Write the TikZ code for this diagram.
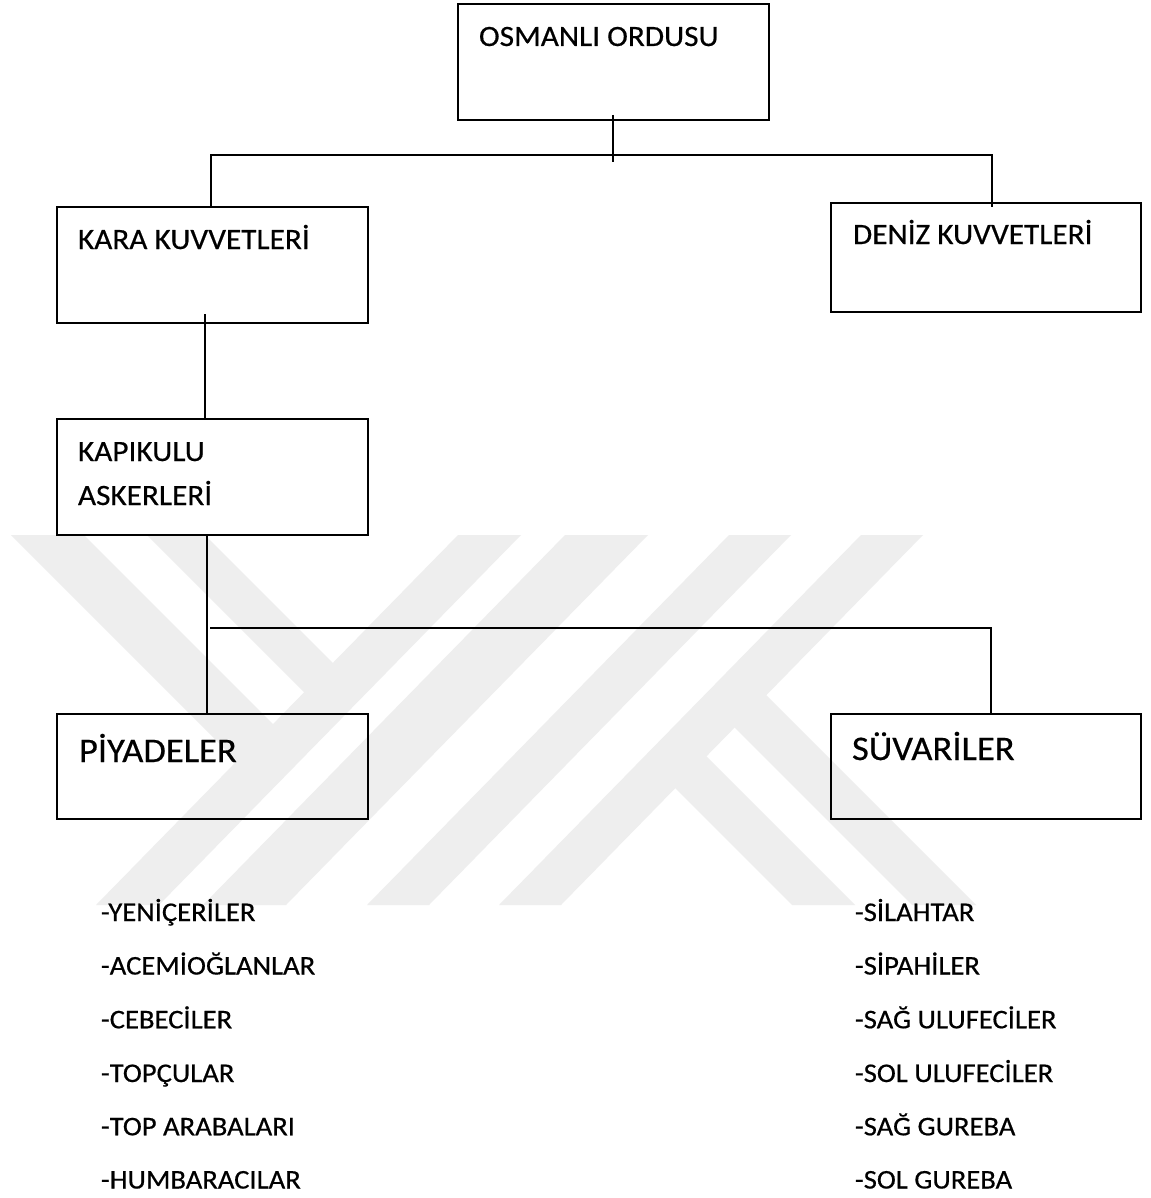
\documentclass[tikz,border=0pt]{standalone}
\usepackage{fontspec}
\setmainfont{Carlito}[FakeStretch=1.06,FakeBold=0.5]
\usetikzlibrary{calc}
\definecolor{wm}{RGB}{238,238,238}
\begin{document}
\begin{tikzpicture}[x=1pt,y=-1pt,
  box/.style={draw=black, line width=1.6pt, rectangle, inner sep=0pt, outer sep=0pt},
  conn/.style={draw=black, line width=1.4pt},
  lbl/.style={anchor=base west, inner sep=0pt, outer sep=0pt, font=\fontsize{29.5}{34}\selectfont},
  big/.style={lbl, font=\fontsize{34.5}{40}\selectfont},
  item/.style={lbl, font=\fontsize{27}{32}\selectfont}]
\useasboundingbox (0,0) rectangle (1150,1198);
\fill[white] (0,0) rectangle (1150,1198);
% watermark
\fill[wm] (458,535) -- (521,535) -- (159,905) -- (96,905) -- cycle;
\fill[wm] (565,535) -- (648,535) -- (286,905) -- (203,905) -- cycle;
\fill[wm] (729,535) -- (791,535) -- (429,905) -- (367,905) -- cycle;
\fill[wm] (861,535) -- (923,535) -- (561,905) -- (499,905) -- cycle;
\fill[wm] (11,535) -- (84,535) -- (280,731) -- (244,768) -- cycle;
\fill[wm] (147,535) -- (205,535) -- (340,670) -- (311,699) -- cycle;
\fill[wm] (668,781) -- (699,749) -- (855,905) -- (792,905) -- cycle;
\fill[wm] (728,721) -- (759,688) -- (976,905) -- (912,905) -- cycle;
% boxes
\node[box, minimum width=311pt, minimum height=116pt] (osm) at (613.5,62) {};
\node[box, minimum width=311pt, minimum height=116pt] (kara) at (212.5,265) {};
\node[box, minimum width=310pt, minimum height=109pt] (deniz) at (986,257.5) {};
\node[box, minimum width=311pt, minimum height=116pt] (kapi) at (212.5,477) {};
\node[box, minimum width=311pt, minimum height=105pt] (piy) at (212.5,766.5) {};
\node[box, minimum width=310pt, minimum height=105pt] (suv) at (986,766.5) {};
% texts
\node[lbl] (tosm) at (479,46) {OSMANLI ORDUSU};
\node[lbl] (tkara) at (78,249) {KARA KUVVETLERİ};
\node[lbl] (tdeniz) at (853,244) {DENİZ KUVVETLERİ};
\node[lbl] (tkapi1) at (78,461) {KAPIKULU};
\node[lbl] (tkapi2) at (78,505) {ASKERLERİ};
\node[big] (tpiy) at (79,762) {PİYADELER};
\node[big] (tsuv) at (852,760) {SÜVARİLER};
% lists
\node[item] (p1) at (101,921) {-YENİÇERİLER};
\node[item] (p2) at (101,974.5) {-ACEMİOĞLANLAR};
\node[item] (p3) at (101,1028.3) {-CEBECİLER};
\node[item] (p4) at (101,1082) {-TOPÇULAR};
\node[item] (p5) at (101,1135.3) {-TOP ARABALARI};
\node[item] (p6) at (101,1188.5) {-HUMBARACILAR};
\node[item] (s1) at (855,921) {-SİLAHTAR};
\node[item] (s2) at (855,974.5) {-SİPAHİLER};
\node[item] (s3) at (855,1028.3) {-SAĞ ULUFECİLER};
\node[item] (s4) at (855,1082) {-SOL ULUFECİLER};
\node[item] (s5) at (855,1135.3) {-SAĞ GUREBA};
\node[item] (s6) at (855,1188.5) {-SOL GUREBA};
% connectors
\coordinate (stub) at (613,162);
\coordinate (busL) at (211,155);
\coordinate (busR) at (992,155);
\coordinate (k1) at (205,314);
\coordinate (trunk) at (207,628);
\coordinate (bus2L) at (210,628);
\coordinate (bus2R) at (991,628);
\draw[conn] ([yshift=5pt]osm.south -| stub) -- (stub);
\draw[conn] (kara.north -| busL) -- (busL) -- (busR) -- ([yshift=-4pt]deniz.north -| busR);
\draw[conn] (k1) -- (k1 |- kapi.north);
\draw[conn] (kapi.south -| trunk) -- (piy.north -| trunk);
\draw[conn] (bus2L) -- (bus2R) -- (suv.north -| bus2R);
\end{tikzpicture}
\end{document}
